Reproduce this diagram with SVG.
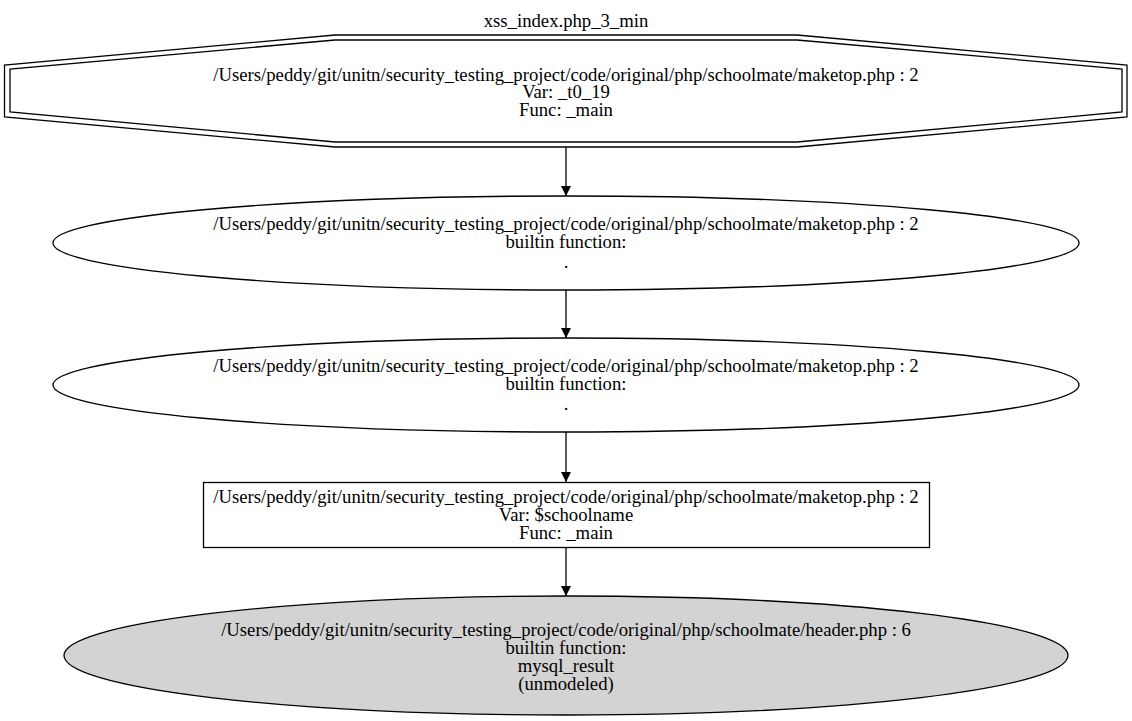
<svg xmlns="http://www.w3.org/2000/svg" width="1132" height="721" viewBox="0 0 1132 721">
  <style>
    text { font-family: "Liberation Serif", "Times New Roman", serif; font-size: 18.7px; fill: #000; text-anchor: middle; }
    .shape { fill: none; stroke: #000; stroke-width: 1.3; }
    .edge { stroke: #000; stroke-width: 1.3; fill: none; }
  </style>
  <defs>
    <marker id="arrow" viewBox="0 0 10 10" refX="10" refY="5" markerWidth="10" markerHeight="10" markerUnits="userSpaceOnUse" orient="auto">
      <path d="M0,0 L10,5 L0,10 Z" fill="#000"/>
    </marker>
  </defs>
  <rect width="1132" height="721" fill="#fff"/>

  <text x="566" y="27">xss_index.php_3_min</text>

  <g id="connectors">
    <line class="edge" x1="566" y1="147" x2="566" y2="196" marker-end="url(#arrow)"/>
    <line class="edge" x1="566" y1="290" x2="566" y2="338" marker-end="url(#arrow)"/>
    <line class="edge" x1="566" y1="432" x2="566" y2="482" marker-end="url(#arrow)"/>
    <line class="edge" x1="566" y1="547" x2="566" y2="596" marker-end="url(#arrow)"/>
  </g>

  <g id="node_t0_19">
    <polygon class="shape" points="4.5,65 4.5,117 335,147 797,147 1127,117 1127,65 797,35 335,35"/>
    <polygon class="shape" points="10,69 10,112 335,142 797,142 1122,112 1122,69 797,40 335,40"/>
    <text x="566" y="81">/Users/peddy/git/unitn/security_testing_project/code/original/php/schoolmate/maketop.php : 2</text>
    <text x="566" y="98">Var: _t0_19</text>
    <text x="566" y="116">Func: _main</text>
  </g>

  <g id="node_builtin_1">
    <ellipse class="shape" cx="566" cy="243" rx="513" ry="47"/>
    <text x="566" y="230">/Users/peddy/git/unitn/security_testing_project/code/original/php/schoolmate/maketop.php : 2</text>
    <text x="566" y="248">builtin function:</text>
    <text x="566" y="268">.</text>
  </g>

  <g id="node_builtin_2">
    <ellipse class="shape" cx="566" cy="385" rx="513" ry="47"/>
    <text x="566" y="372">/Users/peddy/git/unitn/security_testing_project/code/original/php/schoolmate/maketop.php : 2</text>
    <text x="566" y="390">builtin function:</text>
    <text x="566" y="410">.</text>
  </g>

  <g id="node_schoolname">
    <rect class="shape" x="203.5" y="482.5" width="726" height="65"/>
    <text x="566" y="503">/Users/peddy/git/unitn/security_testing_project/code/original/php/schoolmate/maketop.php : 2</text>
    <text x="566" y="521">Var: $schoolname</text>
    <text x="566" y="539">Func: _main</text>
  </g>

  <g id="node_mysql_result">
    <ellipse class="shape" cx="566" cy="655.5" rx="502" ry="59.5" style="fill:#d3d3d3"/>
    <text x="566" y="636">/Users/peddy/git/unitn/security_testing_project/code/original/php/schoolmate/header.php : 6</text>
    <text x="566" y="654">builtin function:</text>
    <text x="566" y="672">mysql_result</text>
    <text x="566" y="690">(unmodeled)</text>
  </g>
</svg>
